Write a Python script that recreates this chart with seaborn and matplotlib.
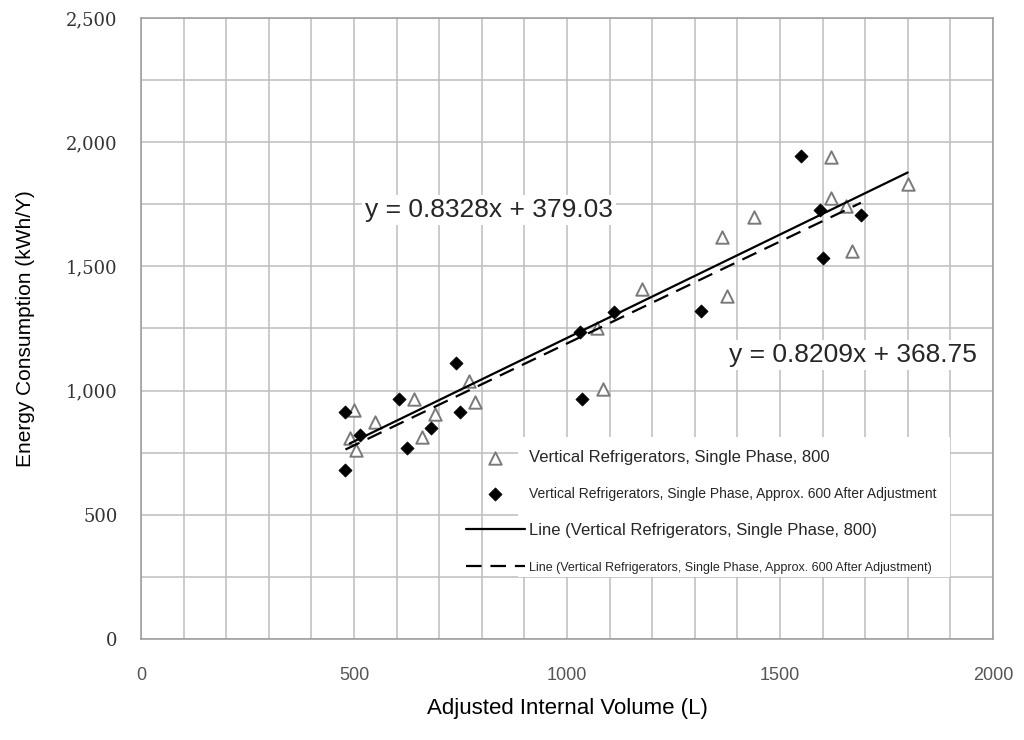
import numpy as np
import pandas as pd
import matplotlib
matplotlib.use("Agg")
import matplotlib.pyplot as plt
import seaborn as sns
from matplotlib.ticker import MultipleLocator, FuncFormatter
from matplotlib.patches import Rectangle

# ---------------- data ----------------
tri_x = [490, 500, 505, 550, 640, 660, 690, 770, 785, 1070, 1085, 1175,
         1365, 1375, 1440, 1620, 1620, 1655, 1670, 1800]
tri_y = [810, 920, 760, 875, 965, 815, 905, 1040, 955, 1250, 1005, 1410,
         1620, 1380, 1700, 1940, 1775, 1745, 1560, 1830]
dia_x = [480, 480, 515, 605, 625, 680, 740, 748, 1030, 1035, 1110, 1315,
         1550, 1595, 1600, 1690]
dia_y = [915, 680, 820, 965, 770, 850, 1110, 915, 1235, 965, 1315, 1320,
         1945, 1725, 1535, 1705]
fit_800 = [0.8328, 379.03]
fit_600 = [0.8209, 368.75]
labels = ["Vertical Refrigerators, Single Phase, 800",
          "Vertical Refrigerators, Single Phase, Approx. 600 After Adjustment",
          "Line (Vertical Refrigerators, Single Phase, 800)",
          "Line (Vertical Refrigerators, Single Phase, Approx. 600 After Adjustment)"]
eq_texts = ["y = 0.8328x + 379.03", "y = 0.8209x + 368.75"]
xlabel = "Adjusted Internal Volume (L)"
ylabel = "Energy Consumption (kWh/Y)"

# ---------------- plot ----------------
sns.set_theme(style="white")
plt.rcParams['font.family'] = ['Liberation Sans', 'DejaVu Sans']

fig = plt.figure(figsize=(10.24, 7.40), dpi=100)
ax = fig.add_axes([0.1377, 0.1365, 0.8320, 0.8392])

df_t = pd.DataFrame({"x": tri_x, "y": tri_y})
df_d = pd.DataFrame({"x": dia_x, "y": dia_y})

lx8 = np.array([min(tri_x), max(tri_x)])
lx6 = np.array([min(dia_x), max(dia_x)])
df_l8 = pd.DataFrame({"x": lx8, "y": np.polyval(fit_800, lx8)})
df_l6 = pd.DataFrame({"x": lx6, "y": np.polyval(fit_600, lx6)})

sns.scatterplot(data=df_t, x="x", y="y", ax=ax, marker="^", s=80,
                facecolor="white", edgecolor="#7a7a7a", linewidth=1.4,
                label=labels[0], zorder=4)
sns.scatterplot(data=df_d, x="x", y="y", ax=ax, marker="D", s=45,
                color="black", edgecolor="black", linewidth=0.5,
                label=labels[1], zorder=4)
sns.lineplot(data=df_l8, x="x", y="y", ax=ax, color="black", linewidth=1.6,
             label=labels[2], zorder=5)
sns.lineplot(data=df_l6, x="x", y="y", ax=ax, color="black", linewidth=1.6,
             linestyle=(0, (7, 4)), label=labels[3], zorder=5)

ax.set_xlim(0, 2000)
ax.set_ylim(0, 2500)
ax.xaxis.set_major_locator(MultipleLocator(500))
ax.xaxis.set_minor_locator(MultipleLocator(100))
ax.yaxis.set_major_locator(MultipleLocator(500))
ax.yaxis.set_minor_locator(MultipleLocator(250))
ax.grid(True, which="both", color="#bdbdbd", linewidth=1.1)
ax.set_axisbelow(True)
for sp in ax.spines.values():
    sp.set_color("#9a9a9a")
    sp.set_linewidth(1.1)

ax.yaxis.set_major_formatter(FuncFormatter(lambda v, p: f"{v:,.0f}"))
ax.tick_params(axis="both", which="both", length=0)
ax.tick_params(axis="y", pad=17, labelsize=13, labelcolor="#333333")
ax.tick_params(axis="x", pad=20, labelsize=13, labelcolor="#555555")
for t in ax.get_yticklabels():
    t.set_family("DejaVu Serif")

ax.set_xlabel(xlabel, fontsize=16, color="black", labelpad=10)
ax.set_ylabel(ylabel, fontsize=15, color="black", labelpad=22)

# equations
ax.text(526, 1727, eq_texts[0], fontsize=19, va="center", ha="left", zorder=6,
        bbox=dict(facecolor="white", edgecolor="none", pad=2))
ax.text(1380, 1143, eq_texts[1], fontsize=19, va="center", ha="left", zorder=6,
        bbox=dict(facecolor="white", edgecolor="none", pad=2))

# legend
ax.add_patch(Rectangle((0.4425, 0.10), 0.507, 0.225, transform=ax.transAxes,
                       facecolor="white", edgecolor="none", zorder=3))
leg = ax.legend(loc="upper left", bbox_to_anchor=(0.374, 0.315), frameon=False,
                fontsize=12, handlelength=3.5, handletextpad=0.25,
                labelspacing=1.3, borderaxespad=0)
for t, s in zip(leg.get_texts(), [12, 10, 12, 9]):
    t.set_fontsize(s)

fig.savefig("out.png", dpi=100)
